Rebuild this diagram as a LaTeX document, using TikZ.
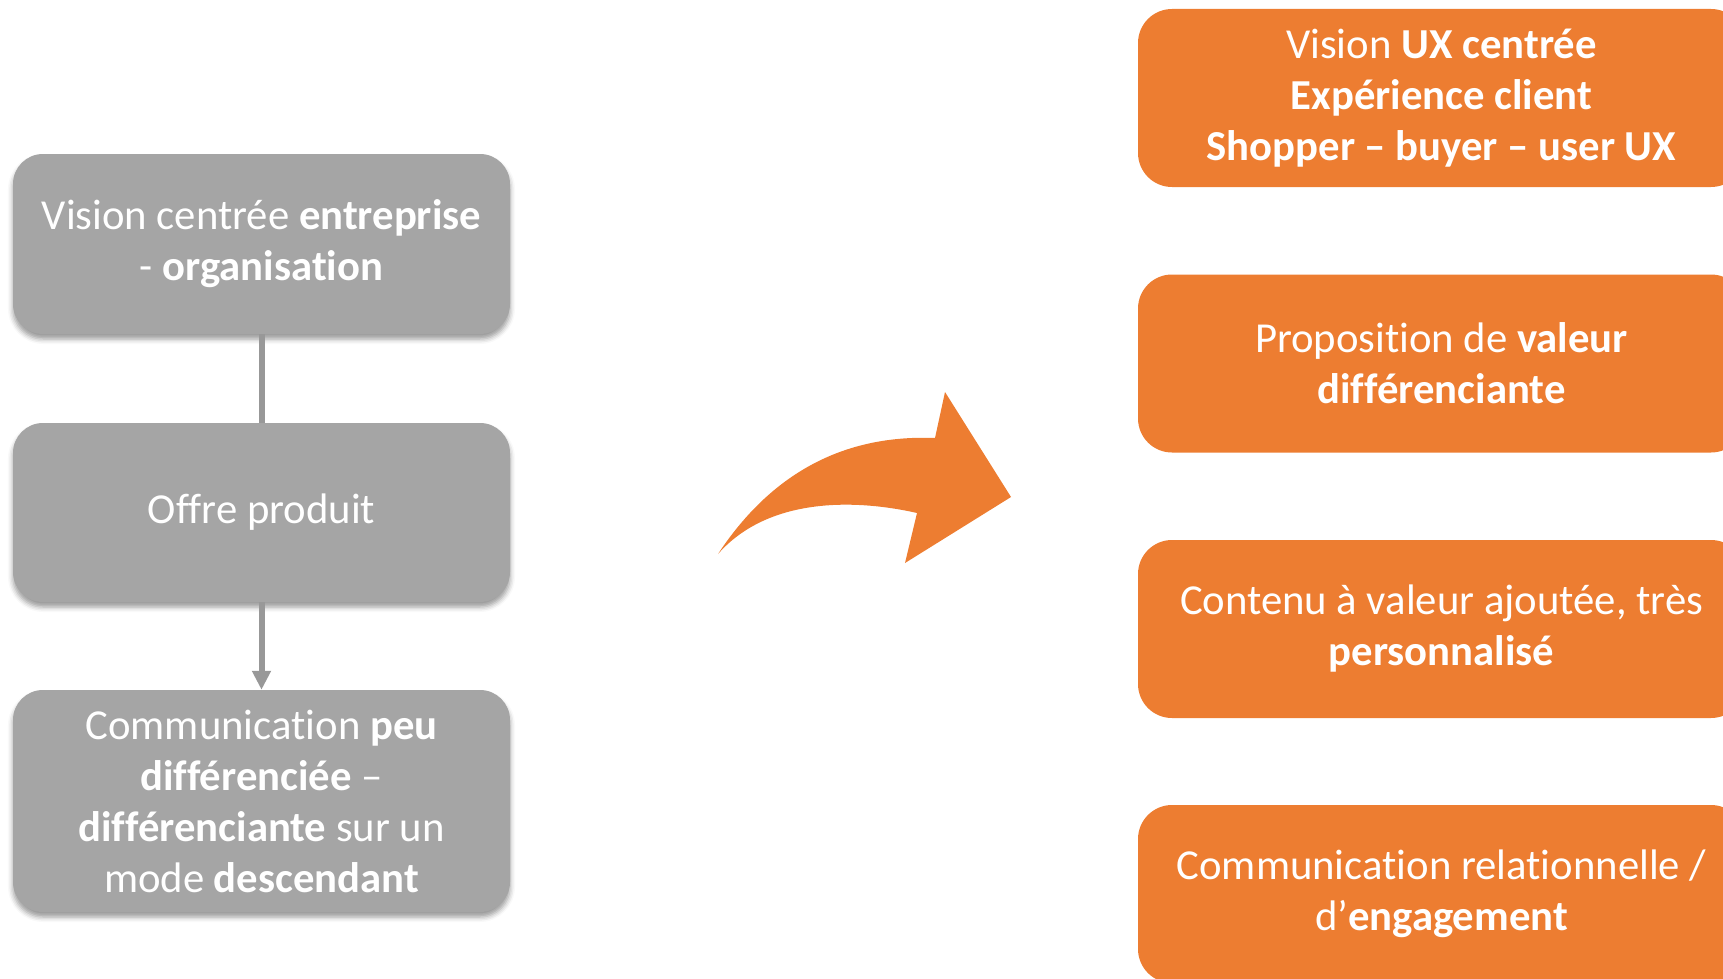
\documentclass[tikz,border=0pt]{standalone}
\usepackage{fontspec}
\setmainfont{Carlito}[Ligatures={TeX,NoCommon}]
\usepackage{tikz}
\usetikzlibrary{calc}
\usetikzlibrary{arrows.meta}
\usetikzlibrary{shadows.blur}
\tikzset{>=latex}
\definecolor{boxgray}{HTML}{A5A5A5}
\definecolor{linegray}{HTML}{989898}
\definecolor{boxorange}{HTML}{ED7D31}
\tikzset{
    graybox/.style={fill=boxgray, text=white, rounded corners=30pt, minimum width=497pt,
        inner sep=0pt, align=center, font=\fontsize{42.7}{51}\selectfont,
        blur shadow={shadow xshift=0pt, shadow yshift=-5pt, shadow blur radius=5pt}},
    orangebox/.style={fill=boxorange, text=white, rounded corners=34pt, minimum width=607pt,
        minimum height=178pt, inner sep=0pt, align=center, font=\fontsize{42.7}{51}\selectfont},
    connector/.style={draw=linegray, line width=6pt}
}

\begin{document}
\begin{tikzpicture}[x=1pt, y=-1pt]
        \useasboundingbox (0, 0) rectangle (1723, 979);
        \clip (0, 0) rectangle (1723, 979);

        % left column
        \node[graybox, minimum height=180pt] (entreprise) at (261.5, 244)
            {Vision centrée \textbf{entreprise}\\- \textbf{organisation}};
        \node[graybox, minimum height=179pt] (offre) at (261.5, 512.5) {Offre produit};
        \node[graybox, minimum height=222pt] (communication) at (261.5, 801)
            {Communication \textbf{peu}\\\textbf{différenciée} –\\\textbf{différenciante} sur un\\mode \textbf{descendant}};

        \draw[connector] (entreprise.south) -- (offre.north);
        \draw[connector, -{Triangle[width=18pt, length=19pt]}] (offre.south) -- (communication.north);

        % curved arrow
        \fill[boxorange] (718, 554) .. controls (780, 460) and (860, 435) .. (935, 438)
            -- (945, 392) -- (1011, 497) -- (905, 563) -- (917, 513)
            .. controls (860, 500) and (770, 495) .. (718, 554) -- cycle;

        % right column
        \node[orangebox] (vision) at (1441.5, 98)
            {Vision \textbf{UX centrée}\\\textbf{Expérience client}\\\textbf{Shopper – buyer – user UX}};
        \node[orangebox] (proposition) at (1441.5, 363.5)
            {Proposition de \textbf{valeur}\\\textbf{différenciante}};
        \node[orangebox] (contenu) at (1441.5, 629)
            {Contenu à valeur ajoutée, très\\\textbf{personnalisé}};
        \node[orangebox] (relation) at (1441.5, 894)
            {Communication relationnelle /\\d’\textbf{engagement}};
    \end{tikzpicture}
\end{document}
